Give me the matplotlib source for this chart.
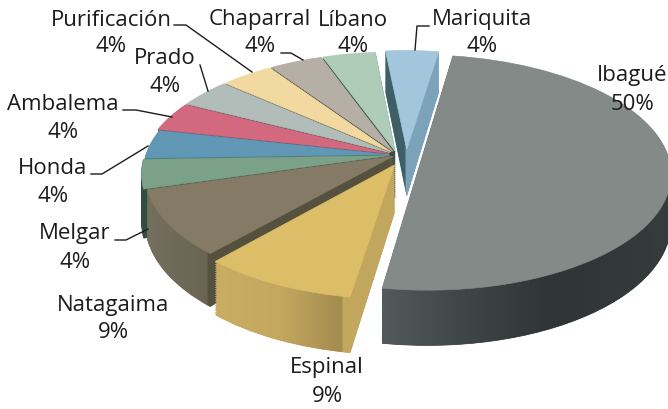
import matplotlib
matplotlib.use('Agg')
import numpy as np
import matplotlib.pyplot as plt
from matplotlib.colors import LinearSegmentedColormap
from matplotlib.path import Path
from matplotlib.transforms import Transform

names = ['Ibagué', 'Espinal', 'Natagaima', 'Melgar', 'Honda', 'Ambalema', 'Prado',
         'Purificación', 'Chaparral', 'Líbano', 'Mariquita']
values = [50, 9, 9, 4, 4, 4, 4, 4, 4, 4, 4]

top_colors = ['#838a87', '#dcbd68', '#857a66', '#7ba188', '#5f97b5', '#d3697f', '#b2bcb9',
              '#f2d9a0', '#b5afa5', '#aeccb8', '#a2c6dc']
wall_colors = ['#3c4343', '#bda45c', '#6b6654', '#2f4d40', '#173f4c', '#5e2438', '#3f4844',
               '#55503a', '#39443c', '#395449', '#7ca3ba']
# offset and size of each slice, in pie units
shifts = [(0.105, 0.0), (-0.01, -0.085), (-0.015, -0.01), (-0.03, -0.005), (-0.03, 0.003), (-0.033, 0.012),
          (-0.029, 0.02), (-0.023, 0.026), (-0.016, 0.031), (-0.008, 0.034), (0.04, 0.05)]
sizes = [1.0, 0.97, 1, 1, 0.995, 1, 1, 1, 1, 1, 1]
draw_order = [10, 9, 8, 7, 6, 5, 4, 3, 2, 1, 0]
# colour runs along x on the walls that show most
wall_ramps = {0: ([378, 450, 550, 668], ['#535b5c', '#424949', '#2f3536', '#363c3c']),
              1: ([216, 280, 342, 343, 400], ['#c8ad63', '#c4a85f', '#a48b4f', '#c2a75e', '#c2a75e']),
              2: ([146, 207, 208, 400], ['#75705e', '#6a6553', '#55513f', '#55513f']),
              10: ([380, 405, 406, 445], ['#3f5f66', '#3f5f66', '#7ca3ba', '#7ca3ba'])}

# perspective of the tilted pie, in pixels
CX, CY = 397, 155
RX, RY = 245, 115
TILT = 0.149
DEPTH = 47
STEP = 2


class PieView(Transform):
    input_dims = 2
    output_dims = 2

    def __init__(self, z):
        super().__init__()
        self.z = z

    def transform_non_affine(self, values):
        values = np.asarray(values)
        w = 1 + TILT * values[:, 1]
        return np.column_stack((CX + RX * values[:, 0] / w, CY + (self.z - RY * values[:, 1]) / w))


plt.rcParams['font.family'] = ['Open Sans', 'DejaVu Sans']
fig = plt.figure(figsize=(6.68, 4.09), dpi=100)
ax = fig.add_axes([0, 0, 1, 1])

wall_paths = {i: [] for i in wall_ramps}
for z in list(range(DEPTH, 0, -STEP)) + [0]:
    colors = top_colors if z == 0 else wall_colors
    wedges, _ = ax.pie(values, startangle=81, counterclock=False, colors=colors, radius=1,
                       wedgeprops={'linewidth': 0.5})
    for i, wedge in enumerate(wedges):
        wedge.set_center(shifts[i])
        wedge.set_radius(sizes[i])
        wedge.set_edgecolor(colors[i])
        view = PieView(z)
        wedge.set_transform(view + ax.transData)
        wedge.set_zorder(2 + draw_order[i] * 100 + (DEPTH - z) * 0.1)
        if z > 0 and i in wall_paths:
            wall_paths[i].append(view.transform_path(wedge.get_path()))

for i, (xs, ramp) in wall_ramps.items():
    spots = [(x - xs[0]) / (xs[-1] - xs[0]) for x in xs]
    cmap = LinearSegmentedColormap.from_list(f'wall{i}', list(zip(spots, ramp)), N=512)
    im = ax.imshow(np.linspace(0, 1, 512)[None, :], cmap=cmap, aspect='auto', interpolation='bilinear',
                   extent=(xs[0], xs[-1], 409, 0), zorder=2 + draw_order[i] * 100 + 4.65)
    im.set_clip_path(Path.make_compound_path(*wall_paths[i]), ax.transData)

ax.set_aspect('auto')
ax.set_xlim(0, 668)
ax.set_ylim(409, 0)
ax.axis('off')

label_pos = {'Ibagué': (632, 75, 104), 'Espinal': (327, 367, 396), 'Natagaima': (113, 305, 333),
             'Melgar': (75, 234, 262), 'Honda': (53, 168, 197), 'Ambalema': (63, 105, 132),
             'Prado': (165, 58, 86), 'Purificación': (111, 20, 46), 'Chaparral': (260, 20, 47),
             'Líbano': (353, 20, 47), 'Mariquita': (482, 20, 47)}
for name, value in zip(names, values):
    x, y1, y2 = label_pos[name]
    ax.text(x, y1, name, ha='center', va='center', fontsize=16, color='#1c1c1c', zorder=5000)
    ax.text(x, y2, f'{value}%', ha='center', va='center', fontsize=16, color='#1c1c1c', zorder=5000)

leaders = [([174, 186, 252], [25, 25, 72]), ([281, 291, 303], [53, 53, 60]), ([429, 417, 415], [26, 26, 50]),
           ([200, 208], [65, 91]), ([123, 136, 172], [110, 110, 117]), ([91, 102, 148], [174, 174, 146]),
           ([115, 126, 148], [240, 240, 229])]
for xs, ys in leaders:
    ax.plot(xs, ys, color='#1c1c1c', lw=1, zorder=4000)

fig.savefig('out.png', dpi=100)
